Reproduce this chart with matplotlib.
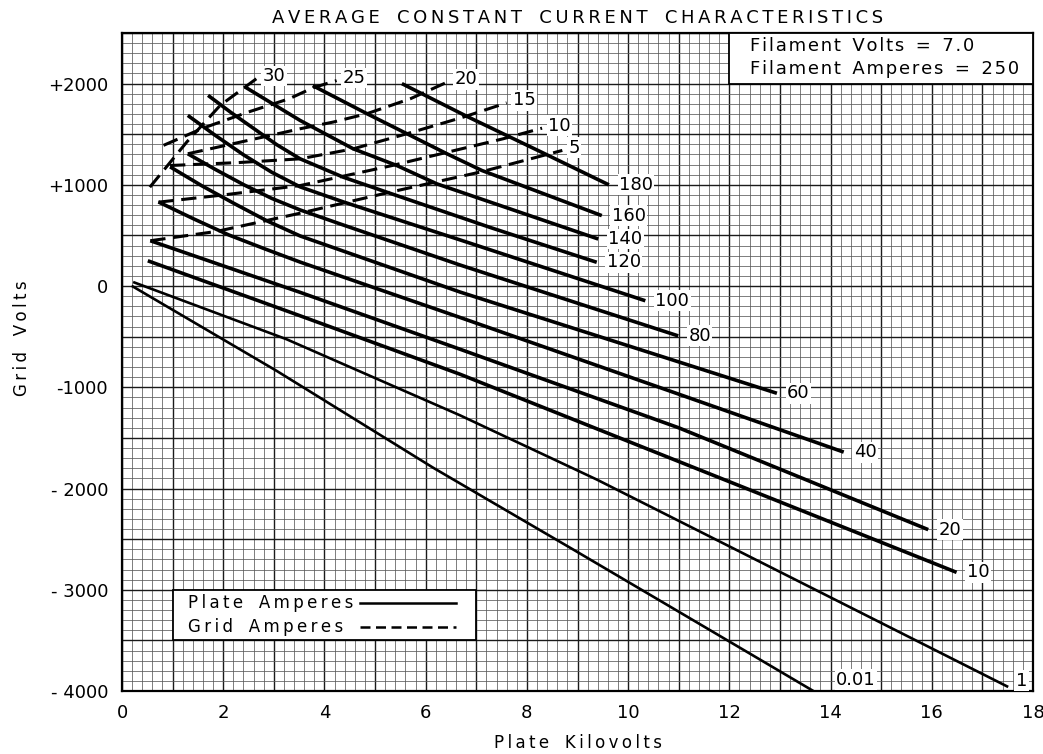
import numpy as np
import matplotlib
matplotlib.use("Agg")
import matplotlib.pyplot as plt
from matplotlib.ticker import MultipleLocator, FuncFormatter
from matplotlib.patches import Rectangle

# ---------------- data ----------------
plate_labels = ["180", "160", "140", "120", "100", "80", "60", "40", "20", "10", "1", "0.01"]
plate_x = [
    [5.53, 6.80, 8.30, 9.62],
    [3.77, 4.84, 5.63, 6.42, 7.11, 9.48],
    [2.43, 3.52, 4.57, 5.43, 6.22, 9.41],
    [1.70, 2.15, 2.61, 3.06, 3.52, 4.37, 5.23, 7.30, 9.38],
    [1.30, 1.84, 2.40, 2.96, 3.52, 4.37, 6.68, 10.34],
    [1.30, 1.86, 2.41, 2.96, 3.52, 4.31, 6.68, 10.99],
    [0.95, 1.58, 2.23, 2.87, 3.52, 6.68, 12.94],
    [0.72, 1.42, 2.11, 2.83, 3.52, 6.68, 10.50, 14.26],
    [0.56, 3.52, 6.68, 11.00, 15.93],
    [0.51, 3.50, 6.68, 16.49],
    [0.22, 3.25, 6.68, 9.38, 17.51],
    [0.19, 3.06, 6.15, 8.92, 13.66],
]
plate_y = [
    [2000, 1680, 1320, 1000],
    [1980, 1703, 1505, 1307, 1142, 696],
    [1967, 1636, 1356, 1191, 1010, 465],
    [1884, 1716, 1554, 1396, 1257, 1076, 928, 575, 235],
    [1686, 1490, 1297, 1124, 980, 832, 456, -145],
    [1307, 1148, 1000, 866, 752, 614, 208, -492],
    [1178, 990, 812, 643, 495, -59, -1059],
    [831, 663, 505, 366, 237, -310, -980, -1640],
    [448, -62, -624, -1400, -2406],
    [250, -290, -871, -2828],
    [40, -525, -1277, -1911, -3960],
    [3, -839, -1795, -2604, -4000],
]
plate_lw = [2.6] * 10 + [1.9, 1.9]

grid_labels = ["30", "25", "20", "15", "10", "5"]
grid_x = [
    [0.55, 1.28, 1.94, 2.66],
    [0.82, 1.60, 2.50, 3.30, 3.78, 4.24],
    [1.30, 2.50, 3.52, 4.18, 4.84, 5.70, 6.45],
    [0.95, 2.30, 3.52, 4.57, 5.63, 6.75, 7.60],
    [0.72, 2.00, 3.52, 5.34, 7.53, 8.30],
    [0.56, 1.87, 3.52, 5.23, 7.11, 8.70],
]
grid_y = [
    [977, 1423, 1785, 2050],
    [1390, 1560, 1720, 1850, 1960, 2030],
    [1307, 1440, 1554, 1621, 1703, 1851, 2020],
    [1191, 1220, 1257, 1356, 1505, 1670, 1810],
    [829, 900, 993, 1191, 1455, 1560],
    [448, 540, 720, 920, 1130, 1340],
]

x_ticks = [0, 2, 4, 6, 8, 10, 12, 14, 16, 18]
y_ticks = [-4000, -3000, -2000, -1000, 0, 1000, 2000]
y_tick_labels = ["- 4000", "- 3000", "- 2000", "-1000", "0", "+1000", "+2000"]

title = "AVERAGE CONSTANT CURRENT CHARACTERISTICS"
x_label = "Plate Kilovolts"
y_label = "Grid Volts"
info_lines = ["Filament Volts = 7.0", "Filament Amperes = 250"]
legend_items = ["Plate Amperes", "Grid Amperes"]

# ---------------- figure ----------------
FONT = "DejaVu Sans"
plt.rcParams["font.family"] = [FONT]

def spaced(s, sep="\u2009", gap="   "):
    words = s.split(" ")
    return gap.join(sep.join(list(w)) for w in words if w)

W, H = 1043, 754
fig = plt.figure(figsize=(W / 100, H / 100), dpi=100)
L, R, T, B = 122, 1033, 33, 691
ax = fig.add_axes([L / W, 1 - B / H, (R - L) / W, (B - T) / H])
ax.set_xlim(0, 18)
ax.set_ylim(-4000, 2500)

ax.xaxis.set_major_locator(MultipleLocator(1))
ax.xaxis.set_minor_locator(MultipleLocator(0.2))
ax.yaxis.set_major_locator(MultipleLocator(500))
ax.yaxis.set_minor_locator(MultipleLocator(100))
ax.xaxis.set_major_formatter(FuncFormatter(lambda v, p: f"{int(round(v))}" if int(round(v)) in x_ticks else ""))
ylab_map = dict(zip(y_ticks, y_tick_labels))
ax.yaxis.set_major_formatter(FuncFormatter(lambda v, p: ylab_map.get(int(round(v)), "")))
ax.grid(which="minor", color="#5a5a5a", lw=0.55)
ax.grid(which="major", color="#1a1a1a", lw=1.0)
ax.set_axisbelow(True)
ax.tick_params(which="both", length=0)
ax.tick_params(axis="x", pad=9, labelsize=13)
ax.tick_params(axis="y", pad=10, labelsize=13)
for sp in ax.spines.values():
    sp.set_linewidth(1.6)

# plate current curves
for xs, ys, lab, lw in zip(plate_x, plate_y, plate_labels, plate_lw):
    ax.plot(xs, ys, color="black", lw=lw, solid_capstyle="butt",
            solid_joinstyle="round", zorder=3)

# grid current curves
for xs, ys, lab in zip(grid_x, grid_y, grid_labels):
    ax.plot(xs, ys, color="black", lw=2.2, ls=(0, (5, 2.5)), zorder=3)

bb = dict(facecolor="white", edgecolor="none", pad=1.0)
# labels for plate curves
offs = {"0.01": (0.45, 110), "1": (0.15, 60)}
for xs, ys, lab in zip(plate_x, plate_y, plate_labels):
    dx, dy = offs.get(lab, (0.2, 0))
    ax.text(xs[-1] + dx, ys[-1] + dy, lab, fontsize=13, ha="left", va="center",
            bbox=bb, zorder=5)
for xs, ys, lab in zip(grid_x, grid_y, grid_labels):
    ax.text(xs[-1] + 0.12, ys[-1] + 25, lab, fontsize=13, ha="left", va="center",
            bbox=bb, zorder=5)

# info box top right
ax.add_patch(Rectangle((12, 2000), 6, 500, facecolor="white", edgecolor="black",
                       lw=1.3, zorder=4))
ax.text(12.4, 2370, spaced(info_lines[0], sep="\u200a", gap="  "), fontsize=13,
        ha="left", va="center", zorder=5)
ax.text(12.4, 2140, spaced(info_lines[1], sep="\u200a", gap="  "), fontsize=13,
        ha="left", va="center", zorder=5)

# legend box bottom left
ax.add_patch(Rectangle((1, -3500), 6, 500, facecolor="white", edgecolor="black",
                       lw=1.3, zorder=4))
ax.text(1.3, -3130, spaced(legend_items[0]), fontsize=12, ha="left", va="center", zorder=5)
ax.text(1.3, -3370, spaced(legend_items[1]), fontsize=12, ha="left", va="center", zorder=5)
ax.plot([4.7, 6.6], [-3130, -3130], color="black", lw=1.8, zorder=5)
ax.plot([4.7, 6.6], [-3370, -3370], color="black", lw=1.8, ls=(0, (4, 2.2)), zorder=5)

# titles
fig.text((L + R) / 2 / W, 1 - 18 / H, spaced(title), fontsize=13, ha="center", va="center")
fig.text((L + R) / 2 / W, 1 - 743 / H, spaced(x_label), fontsize=12, ha="center", va="center")
fig.text(22 / W, 1 - 338 / H, spaced(y_label), fontsize=12, ha="center", va="center",
         rotation=90)

fig.savefig("out.png", dpi=100, facecolor="white")
